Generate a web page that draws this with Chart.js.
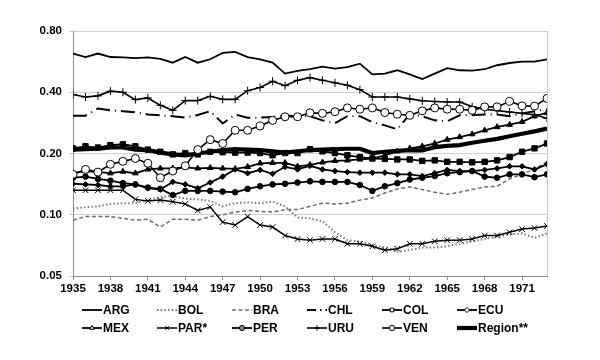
<!DOCTYPE html>
<html>
<head>
<meta charset="utf-8">
<script src="https://cdn.jsdelivr.net/npm/chart.js@4.4.1/dist/chart.umd.min.js"></script>
<style>
  html, body { margin: 0; padding: 0; background: #fff; }
  #wrap { width: 600px; height: 360px; position: relative; }
</style>
</head>
<body>
<div id="wrap"><canvas id="c" width="600" height="360"></canvas></div>
<script>
// ---- Data ----
const years = [1935,1936,1937,1938,1939,1940,1941,1942,1943,1944,1945,1946,1947,1948,1949,1950,1951,1952,1953,1954,1955,1956,1957,1958,1959,1960,1961,1962,1963,1964,1965,1966,1967,1968,1969,1970,1971,1972,1973];
const yTickValues = [0.05, 0.10, 0.20, 0.40, 0.80];

const ARG = [0.620,0.596,0.620,0.596,0.594,0.588,0.594,0.583,0.559,0.596,0.559,0.581,0.624,0.631,0.596,0.581,0.559,0.494,0.509,0.519,0.535,0.523,0.532,0.553,0.490,0.494,0.513,0.490,0.464,0.494,0.525,0.513,0.511,0.519,0.543,0.557,0.566,0.566,0.581];
const BOL = [0.107,0.109,0.110,0.113,0.114,0.114,0.118,0.122,0.124,0.120,0.119,0.117,0.110,0.114,0.115,0.114,0.116,0.110,0.097,0.096,0.093,0.082,0.075,0.074,0.071,0.069,0.066,0.067,0.069,0.069,0.070,0.072,0.074,0.076,0.078,0.080,0.081,0.077,0.081];
const BRA = [0.094,0.098,0.098,0.098,0.096,0.094,0.095,0.087,0.095,0.095,0.094,0.098,0.100,0.103,0.105,0.104,0.103,0.106,0.106,0.110,0.114,0.113,0.114,0.118,0.121,0.128,0.134,0.137,0.133,0.129,0.126,0.129,0.133,0.137,0.138,0.150,0.158,0.168,0.182];
const CHL = [0.307,0.307,0.333,0.326,0.323,0.319,0.311,0.308,0.305,0.300,0.309,0.323,0.281,0.311,0.300,0.300,0.302,0.307,0.305,0.305,0.291,0.282,0.305,0.305,0.285,0.275,0.263,0.312,0.305,0.291,0.288,0.308,0.308,0.311,0.311,0.305,0.315,0.323,0.330];
const COL = [0.212,0.217,0.214,0.220,0.222,0.217,0.209,0.204,0.198,0.201,0.198,0.204,0.203,0.202,0.202,0.201,0.196,0.201,0.201,0.210,0.205,0.201,0.196,0.192,0.189,0.188,0.187,0.187,0.184,0.185,0.182,0.182,0.181,0.182,0.185,0.192,0.204,0.212,0.224];
const ECU = [0.142,0.141,0.140,0.138,0.138,0.141,0.135,0.133,0.145,0.141,0.135,0.144,0.154,0.167,0.160,0.166,0.159,0.172,0.167,0.174,0.167,0.164,0.162,0.161,0.161,0.161,0.158,0.158,0.155,0.160,0.166,0.164,0.164,0.166,0.169,0.173,0.173,0.167,0.177];
const MEX = [0.160,0.164,0.162,0.160,0.163,0.160,0.167,0.169,0.169,0.171,0.169,0.170,0.169,0.168,0.172,0.179,0.180,0.180,0.173,0.176,0.181,0.184,0.185,0.187,0.189,0.196,0.205,0.212,0.217,0.224,0.234,0.241,0.249,0.260,0.270,0.277,0.286,0.305,0.317];
const PAR = [0.132,0.132,0.132,0.132,0.132,0.119,0.117,0.118,0.116,0.113,0.105,0.109,0.092,0.089,0.098,0.089,0.087,0.079,0.076,0.075,0.076,0.076,0.072,0.072,0.070,0.067,0.068,0.072,0.072,0.074,0.075,0.075,0.076,0.079,0.079,0.082,0.085,0.086,0.088];
const PER = [0.152,0.154,0.150,0.147,0.143,0.141,0.136,0.134,0.125,0.131,0.131,0.131,0.130,0.129,0.134,0.138,0.141,0.142,0.144,0.146,0.145,0.145,0.145,0.140,0.131,0.138,0.143,0.149,0.152,0.155,0.160,0.162,0.164,0.154,0.152,0.158,0.158,0.153,0.158];
const URU = [0.390,0.379,0.384,0.405,0.400,0.368,0.375,0.345,0.326,0.364,0.364,0.382,0.369,0.369,0.407,0.422,0.453,0.431,0.458,0.472,0.458,0.445,0.433,0.412,0.379,0.379,0.379,0.371,0.363,0.360,0.358,0.358,0.340,0.330,0.325,0.320,0.315,0.310,0.298];
const VEN = [0.158,0.167,0.162,0.177,0.183,0.189,0.179,0.152,0.164,0.174,0.209,0.234,0.224,0.260,0.260,0.273,0.291,0.303,0.303,0.317,0.315,0.321,0.335,0.330,0.335,0.318,0.312,0.308,0.324,0.335,0.330,0.330,0.326,0.339,0.339,0.361,0.343,0.342,0.373];
const REGION = [0.209,0.210,0.211,0.214,0.214,0.209,0.208,0.202,0.198,0.196,0.200,0.204,0.208,0.210,0.209,0.208,0.205,0.202,0.205,0.208,0.209,0.210,0.211,0.211,0.201,0.204,0.206,0.208,0.207,0.215,0.218,0.220,0.226,0.231,0.236,0.243,0.250,0.257,0.265];

const seriesLabels = ['ARG','BOL','BRA','CHL','COL','ECU','MEX','PAR*','PER','URU','VEN','Region**'];
const seriesValues = [ARG, BOL, BRA, CHL, COL, ECU, MEX, PAR, PER, URU, VEN, REGION];

// ---- Styles ----
const FONT = "'Liberation Sans', Arial, Helvetica, sans-serif";
const styles = [
  { borderColor:'#000', borderWidth:1.8, pointStyle:false, order:5 },
  { borderColor:'#7a7a7a', borderWidth:2, borderDash:[1.5,2.2], pointStyle:false, order:5 },
  { borderColor:'#6e6e6e', borderWidth:1.5, borderDash:[4,2.5], pointStyle:false, order:5 },
  { borderColor:'#000', borderWidth:2, borderDash:[14,5,1,5], pointStyle:false, order:5 },
  { borderColor:'#000', borderWidth:1.8, pointStyle:'rect', pointRadius:3.8, pointBackgroundColor:'#000', pointBorderColor:'#000', legendFill:'#fff', order:4 },
  { borderColor:'#000', borderWidth:1.8, pointStyle:'rectRot', pointRadius:2.8, pointBackgroundColor:'#000', pointBorderColor:'#000', legendFill:'#fff', order:4 },
  { borderColor:'#000', borderWidth:1.8, pointStyle:'triangle', pointRadius:3.3, pointBackgroundColor:'#000', pointBorderColor:'#000', legendFill:'#fff', order:4 },
  { borderColor:'#000', borderWidth:1.5, pointStyle:'crossRot', pointRadius:4, pointBackgroundColor:'#000', pointBorderColor:'#000', pointBorderWidth:1, order:4 },
  { borderColor:'#000', borderWidth:1.8, pointStyle:'circle', pointRadius:2.8, pointBackgroundColor:'#000', pointBorderColor:'#000', legendFill:'#888', order:4 },
  { borderColor:'#000', borderWidth:1.6, pointStyle:'cross', pointRadius:4, pointBackgroundColor:'#000', pointBorderColor:'#000', pointBorderWidth:1, order:4 },
  { borderColor:'#000', borderWidth:1.6, pointStyle:'circle', pointRadius:4, pointBackgroundColor:'#fff', pointBorderColor:'#000', pointBorderWidth:1, order:1 },
  { borderColor:'#000', borderWidth:4.2, pointStyle:false, order:3 }
];

const datasets = seriesLabels.map((label, i) => Object.assign({
  label,
  data: years.map((yr, j) => ({ x: yr, y: seriesValues[i][j] })),
  fill: false,
  tension: 0,
  pointRadius: 0,
  pointBorderWidth: 1,
  pointHoverRadius: 0
}, styles[i]));

const frame = {
  id: 'frame',
  beforeDatasetsDraw(chart) {
    const a = chart.chartArea, ctx = chart.ctx;
    ctx.save();
    ctx.strokeStyle = '#c8c8c8';
    ctx.lineWidth = 1;
    ctx.beginPath();
    ctx.moveTo(Math.round(a.right) + 0.5, a.top);
    ctx.lineTo(Math.round(a.right) + 0.5, a.bottom);
    ctx.stroke();
    ctx.restore();
  }
};

const legendPlugin = {
  id: 'customLegend',
  afterDraw(chart) {
    const ctx = chart.ctx;
    const x0 = 82, colW = 75, rows = [310, 328], sampleW = 20, cols = 6;
    ctx.save();
    ctx.font = 'bold 12px ' + FONT;
    ctx.textBaseline = 'middle';
    ctx.textAlign = 'left';
    chart.data.datasets.forEach((ds, i) => {
      const x = x0 + (i % cols) * colW;
      const y = rows[Math.floor(i / cols)];
      ctx.beginPath();
      ctx.setLineDash(ds.borderDash ? (i === 3 ? [9, 4, 1.5, 4] : ds.borderDash) : []);
      ctx.lineWidth = ds.borderWidth;
      ctx.strokeStyle = ds.borderColor;
      ctx.moveTo(x, y);
      ctx.lineTo(x + sampleW, y);
      ctx.stroke();
      ctx.setLineDash([]);
      if (ds.pointStyle) {
        ctx.fillStyle = ds.legendFill || ds.pointBackgroundColor;
        ctx.strokeStyle = '#000';
        ctx.lineWidth = 1;
        Chart.helpers.drawPoint(ctx, { pointStyle: ds.pointStyle, radius: 2.6, rotation: 0, borderWidth: 1 }, x + sampleW / 2, y);
      }
      ctx.fillStyle = '#000';
      ctx.fillText(ds.label, x + sampleW + 1, y + 0.5);
    });
    ctx.restore();
  }
};

Chart.defaults.font.family = FONT;
Chart.defaults.font.weight = 'bold';
Chart.defaults.font.size = 11.5;
Chart.defaults.color = '#000';

new Chart(document.getElementById('c'), {
  type: 'line',
  data: { datasets },
  options: {
    responsive: false,
    animation: false,
    devicePixelRatio: 1,
    layout: { padding: { left: 0, right: 53, top: 31, bottom: 0 } },
    plugins: {
      legend: { display: false },
      tooltip: { enabled: false },
      title: { display: false }
    },
    scales: {
      x: {
        type: 'linear',
        min: years[0],
        max: years[years.length - 1],
        afterFit(scale) { scale.height = 84; },
        afterBuildTicks(scale) {
          scale.ticks = years.filter((y, i) => i % 3 === 0 && y <= 1971).map(v => ({ value: v }));
        },
        ticks: {
          stepSize: 3,
          autoSkip: false,
          maxRotation: 0,
          padding: 2,
          callback: (v) => String(v),
          font: { size: 11.5, weight: 'bold' }
        },
        grid: { drawOnChartArea: false, drawTicks: true, tickLength: 4, color: '#8c8c8c', lineWidth: 1 },
        border: { display: true, color: '#8c8c8c', width: 1 }
      },
      y: {
        type: 'logarithmic',
        min: yTickValues[0],
        max: yTickValues[yTickValues.length - 1],
        afterFit(scale) { scale.width = 73; },
        afterBuildTicks(scale) {
          scale.ticks = yTickValues.map(v => ({ value: v }));
        },
        ticks: {
          padding: 7,
          callback: (v) => Number(v).toFixed(2),
          font: { size: 11.5, weight: 'bold' }
        },
        grid: { color: '#cfcfcf', lineWidth: 1, drawTicks: true, tickLength: 4 },
        border: { display: true, color: '#8c8c8c', width: 1 }
      }
    }
  },
  plugins: [frame, legendPlugin]
});
</script>
</body>
</html>
